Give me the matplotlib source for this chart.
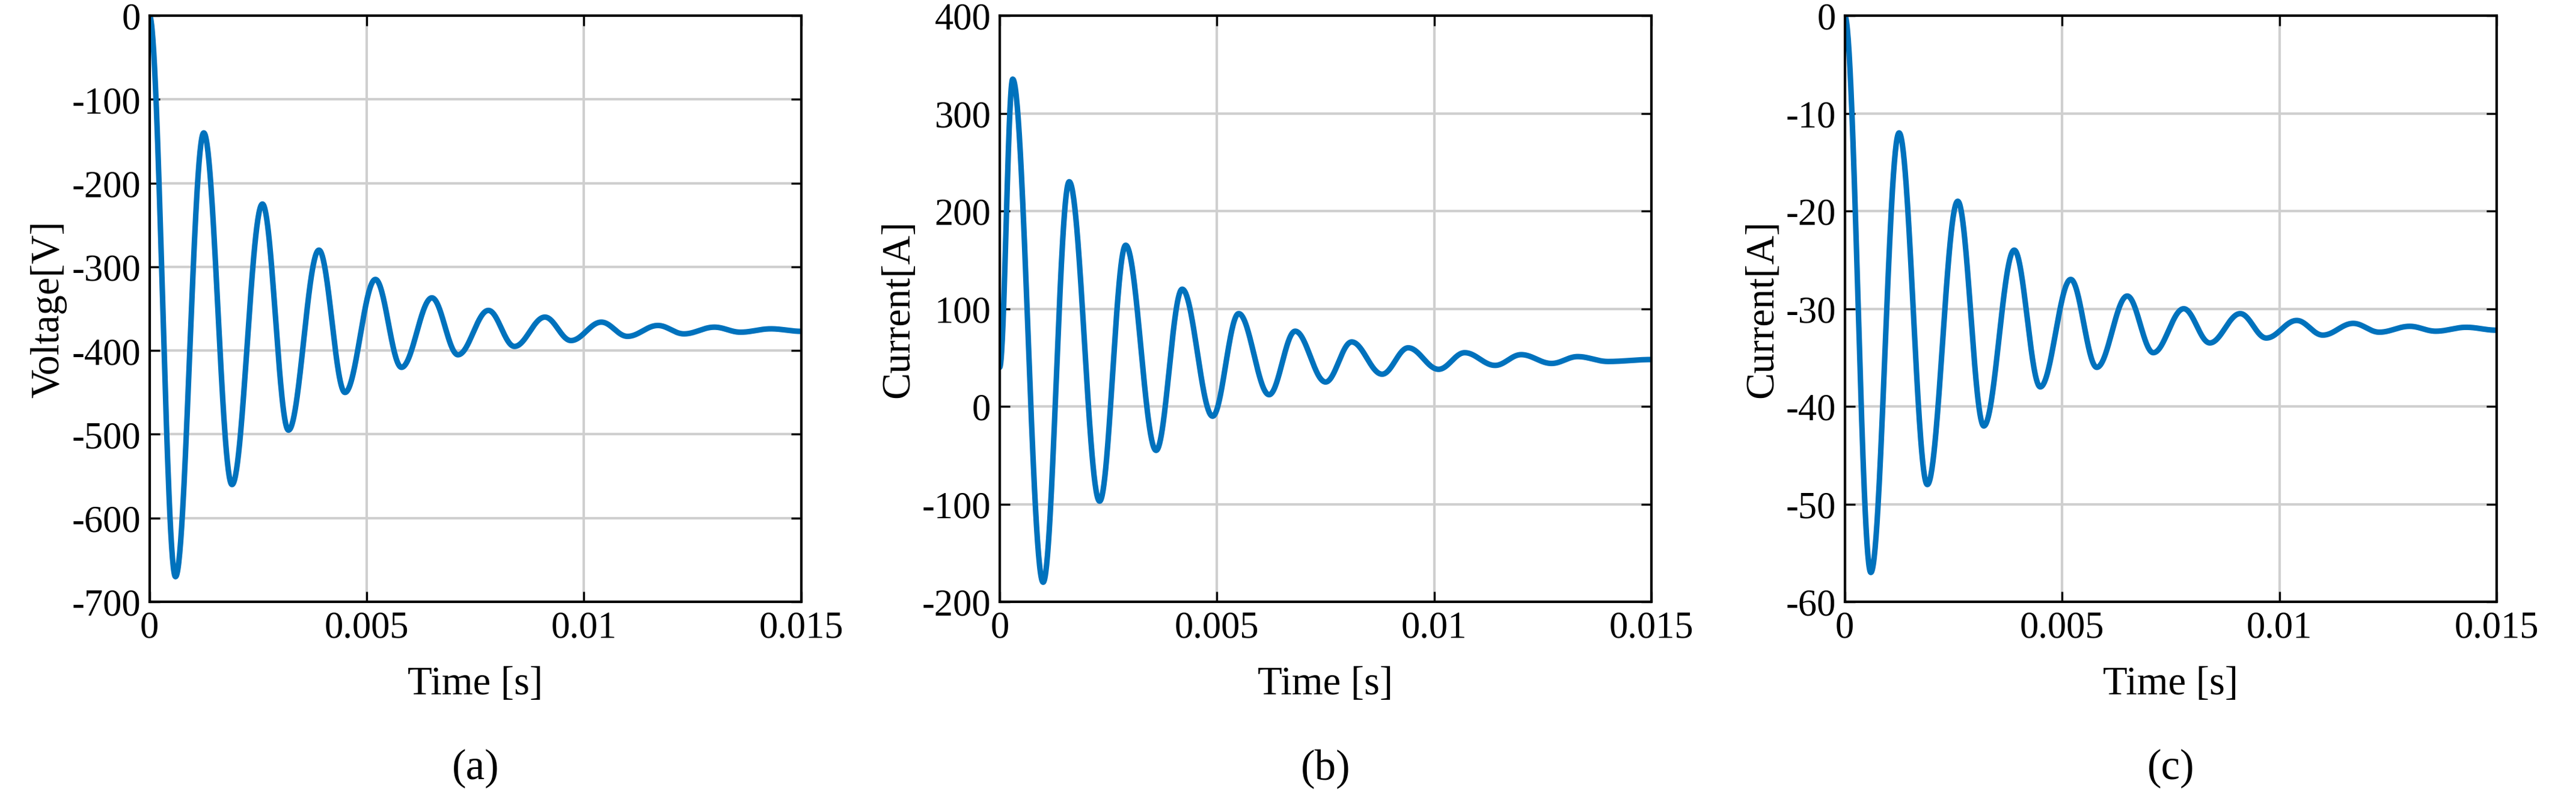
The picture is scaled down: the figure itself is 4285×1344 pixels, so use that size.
import numpy as np
import matplotlib
matplotlib.use("Agg")
import matplotlib.pyplot as plt

plt.rcParams['font.family'] = ['Liberation Serif', 'DejaVu Serif']

# extrema (time, value)
ta = [0, 0.0006, 0.00125, 0.0019, 0.0026, 0.0032, 0.0039, 0.0045, 0.0052, 0.0058, 0.0065, 0.0071, 0.0078,
      0.0084, 0.0091, 0.0097, 0.0104, 0.011, 0.0117, 0.0123, 0.013, 0.0136, 0.0143, 0.015]
va = [0, -670, -140, -560, -225, -495, -280, -450, -315, -420, -337, -405, -352,
      -395, -360, -388, -366, -383, -370, -380, -372, -378, -374, -377]
tb = [0, 0.0003, 0.001, 0.0016, 0.0023, 0.0029, 0.0036, 0.0042, 0.0049, 0.0055, 0.0062, 0.0068, 0.0075,
      0.0081, 0.0088, 0.0094, 0.0101, 0.0107, 0.0114, 0.012, 0.0127, 0.0133, 0.014, 0.015]
vb = [40, 335, -180, 230, -97, 165, -45, 120, -10, 95, 12, 77, 25,
      66, 33, 60, 38, 55, 42, 53, 44, 51, 46, 48]
tc = ta
vc = [0, -57, -12, -48, -19, -42, -24, -38, -27, -36, -28.7, -34.5, -30,
      -33.5, -30.5, -33, -31.2, -32.7, -31.5, -32.4, -31.8, -32.3, -31.9, -32.2]

def curve(t, v):
    xs, ys = [], []
    for i in range(len(t) - 1):
        s = np.linspace(0, 1, 60, endpoint=False)
        w = (1 - np.cos(np.pi * s)) / 2
        xs.append(t[i] + (t[i+1] - t[i]) * s)
        ys.append(v[i] + (v[i+1] - v[i]) * w)
    xs.append([t[-1]]); ys.append([v[-1]])
    return np.concatenate(xs), np.concatenate(ys)

fig = plt.figure(figsize=(14.286, 4.483), dpi=300)
panels = [
    (0.058, ta, va, (-700, 0), np.arange(-700, 1, 100), 'Voltage[V]', '(a)'),
    (0.388, tb, vb, (-200, 400), np.arange(-200, 401, 100), 'Current[A]', '(b)'),
    (0.716, tc, vc, (-60, 0), np.arange(-60, 1, 10), 'Current[A]', '(c)'),
]
for left, t, v, yl, yt, ylab, lab in panels:
    ax = fig.add_axes([left, 0.255, 0.253, 0.725])
    x, y = curve(t, v)
    ax.plot(x, y, color='#0072BD', lw=2.2)
    ax.set_xlim(0, 0.015)
    ax.set_ylim(*yl)
    ax.set_xticks([0, 0.005, 0.01, 0.015])
    ax.set_xticklabels(['0', '0.005', '0.01', '0.015'])
    ax.set_yticks(yt)
    ax.set_yticklabels([str(int(k)) for k in yt])
    ax.grid(True, color='#cfcfcf', lw=1.0)
    ax.tick_params(direction='in', labelsize=15, top=True, right=True, length=4)
    for s in ax.spines.values():
        s.set_linewidth(1.0)
    ax.set_xlabel('Time [s]', fontsize=16, labelpad=8)
    ax.set_ylabel(ylab, fontsize=16, labelpad=2)
    ax.text(0.5, -0.25, lab, transform=ax.transAxes, ha='center', va='top', fontsize=17)

fig.savefig('out.png', dpi=300)
